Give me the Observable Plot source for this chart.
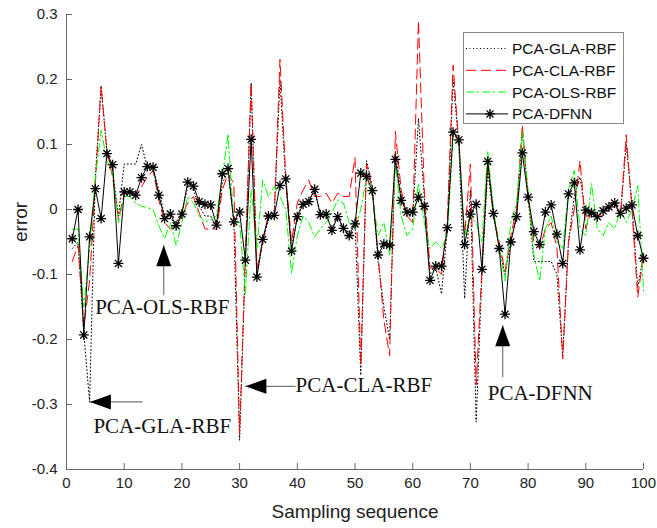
<!DOCTYPE html>
<html><head><meta charset="utf-8">
<script src="https://cdn.jsdelivr.net/npm/d3@7"></script>
<script src="https://cdn.jsdelivr.net/npm/@observablehq/plot@0.6"></script>
<style>
body{margin:0;background:#fff;}
#wrap{position:relative;width:657px;height:528px;}
#legend{position:absolute;left:463px;top:32px;width:161px;height:92px;border:1px solid #888;background:#fff;box-sizing:border-box;}
#legend svg{display:block}
</style>
</head><body>
<div id="wrap"><div id="chart"></div><div id="legend"></div></div>
<script>
// ---- data ----
const samples = d3.range(1, 101);
const seriesNames = ["PCA-GLA-RBF", "PCA-CLA-RBF", "PCA-OLS-RBF", "PCA-DFNN"];
const gla = [-0.06,-0.05,-0.19,-0.296,0.05,0.19,0.09,0.06,-0.01,0.07,
  0.07,0.07,0.10,0.065,0.063,0.03,-0.01,-0.015,-0.02,-0.005,
  0.035,0.03,0.005,-0.01,-0.01,-0.03,0.04,0.06,-0.02,-0.355,
  -0.08,0.195,-0.1,-0.05,-0.015,-0.01,0.2,0.04,-0.06,-0.01,
  0.01,0.015,0.03,-0.01,-0.01,-0.03,-0.01,-0.03,-0.035,-0.02,
  -0.255,0.075,0.035,-0.08,-0.15,-0.2,0.09,0.02,-0.01,-0.01,
  0.14,0.02,-0.1,-0.09,-0.13,-0.03,0.2,0.1,-0.137,0.03,
  -0.327,-0.1,0.06,-0.01,-0.06,-0.1,-0.05,-0.01,0.12,0.02,
  -0.08,-0.08,-0.08,-0.08,-0.1,-0.225,-0.05,0.02,0.05,-0.01,
  -0.01,-0.01,-0.005,0.0,0.01,-0.01,0.1,0.01,-0.12,-0.07];
const cla = [-0.08,-0.055,-0.18,-0.11,0.04,0.19,0.09,0.05,-0.015,0.025,
  0.025,0.02,0.035,0.05,0.06,0.015,-0.02,-0.03,-0.025,-0.01,
  0.01,0.02,-0.005,-0.03,-0.03,-0.03,0.03,0.055,0.04,-0.345,
  -0.07,0.194,-0.09,-0.05,-0.01,-0.01,0.231,0.05,-0.05,0.01,
  0.03,0.045,0.02,0.02,0.025,0.01,0.025,0.02,0.02,0.08,
  -0.24,0.07,0.03,-0.07,-0.17,-0.225,0.12,0.03,-0.01,-0.02,
  0.29,0.03,-0.09,-0.09,-0.1,-0.02,0.222,0.1,-0.04,0.07,
  -0.27,-0.09,0.08,-0.01,-0.05,-0.095,-0.04,0.0,0.13,0.02,
  -0.05,-0.06,-0.03,-0.02,-0.06,-0.23,-0.05,0.0,0.075,-0.03,
  0.0,-0.01,-0.01,0.0,0.01,-0.01,0.115,0.0,-0.135,-0.07];
const ols = [-0.03,-0.03,-0.15,-0.06,0.05,0.122,0.075,0.055,-0.02,0.02,
  0.02,0.01,0.005,0.003,0.0,-0.025,-0.045,-0.02,-0.055,-0.02,
  0.02,0.01,-0.01,-0.02,-0.015,-0.01,0.05,0.116,-0.02,-0.02,
  -0.13,0.03,-0.06,0.045,0.02,0.035,0.02,0.0,-0.098,-0.04,
  -0.01,-0.02,-0.042,-0.03,-0.02,-0.005,0.015,0.01,-0.02,-0.03,
  0.0,0.05,0.02,-0.04,-0.02,-0.07,0.07,-0.01,-0.04,-0.03,
  0.04,-0.02,-0.06,-0.05,-0.06,-0.04,0.11,0.1,-0.04,-0.01,
  -0.02,-0.05,0.09,0.0,-0.06,-0.11,-0.02,0.01,0.12,0.03,
  -0.07,-0.11,-0.03,-0.01,-0.05,-0.06,0.03,0.06,-0.03,-0.04,
  0.04,-0.03,-0.04,-0.02,-0.03,0.0,-0.02,0.0,0.037,-0.125];
const dfnn = [-0.045,0.0,-0.193,-0.042,0.032,-0.014,0.086,0.069,-0.083,0.027,
  0.027,0.022,0.049,0.066,0.065,0.022,-0.014,-0.007,-0.025,-0.007,
  0.042,0.036,0.012,0.008,0.007,-0.024,0.055,0.063,-0.019,-0.004,
  -0.078,0.108,-0.104,-0.046,-0.010,-0.009,0.037,0.047,-0.064,-0.011,
  0.008,0.012,0.031,-0.008,-0.007,-0.032,-0.011,-0.029,-0.040,-0.022,
  0.056,0.051,0.029,-0.070,-0.053,-0.055,0.077,0.014,-0.004,-0.004,
  0.019,0.005,-0.109,-0.087,-0.087,-0.028,0.119,0.107,-0.054,-0.007,
  0.008,-0.092,0.074,-0.006,-0.060,-0.161,-0.050,-0.011,0.087,0.019,
  -0.034,-0.054,-0.004,0.007,-0.038,-0.083,0.024,0.041,-0.062,-0.001,
  -0.005,-0.011,-0.002,0.004,0.010,-0.006,0.002,0.007,-0.040,-0.075];
const xTicks = [0,10,20,30,40,50,60,70,80,90,100];
const yTicks = [-0.4,-0.3,-0.2,-0.1,0,0.1,0.2,0.3];
const yTickLabels = ["-0.4","-0.3","-0.2","-0.1","0","0.1","0.2","0.3"];
const xLabel = "Sampling sequence";
const yLabel = "error";
// annotations (label, arrow tip, arrow tail, text position)
const annLabels = ["PCA-OLS-RBF","PCA-GLA-RBF","PCA-CLA-RBF","PCA-DFNN"];
const annTipX = [16.85, 4.05, 31.0, 75.6];
const annTipY = [-0.055, -0.296, -0.272, -0.178];
const annTailX = [16.85, 13.2, 39.7, 75.6];
const annTailY = [-0.132, -0.296, -0.272, -0.258];
const annTextX = [16.6, 16.6, 39.7, 82.1];
const annTextY = [-0.151, -0.333, -0.271, -0.283];
const annDir = ["up","left","left","up"];
const annAnchor = ["middle","middle","start","middle"];

// ---- build ----
const W = 657, H = 528, mL = 66, mR = 14, mT = 14, mB = 59;
const rows = samples.map((s, i) => ({x: s, gla: gla[i], cla: cla[i], ols: ols[i], dfnn: dfnn[i]}));
const ann = annLabels.map((l, i) => ({label: l, tx: annTipX[i], ty: annTipY[i], lx: annTailX[i], ly: annTailY[i],
  px: annTextX[i], py: annTextY[i], rot: annDir[i] === "up" ? 0 : -90, anchor: annAnchor[i]}));
const yMin = -0.4, yMax = 0.3;
const tickLen = (yMax - yMin) * 6 / (H - mT - mB);
const tickLenX = 100 * 6 / (W - mL - mR);

const star = {draw(ctx, size) {
  const r = Math.sqrt(size / Math.PI), d = r * Math.SQRT1_2;
  ctx.moveTo(-r, 0); ctx.lineTo(r, 0); ctx.moveTo(0, -r); ctx.lineTo(0, r);
  ctx.moveTo(-d, -d); ctx.lineTo(d, d); ctx.moveTo(-d, d); ctx.lineTo(d, -d);
}};
const head = {draw(ctx) {
  ctx.moveTo(0, 0); ctx.lineTo(-7.5, 21); ctx.lineTo(7.5, 21); ctx.closePath();
}};
const axisColor = "#666";
const chart = Plot.plot({
  width: W, height: H, marginLeft: mL, marginRight: mR, marginTop: mT, marginBottom: mB,
  x: {domain: [0, 100]},
  y: {domain: [yMin, yMax]},
  style: {fontFamily: "'Liberation Sans', Arial, sans-serif", fontSize: "15px", color: "#222", background: "#fff"},
  marks: [
    Plot.ruleX([0], {stroke: axisColor}),
    Plot.ruleY([yMin], {stroke: axisColor}),
    Plot.ruleX(xTicks, {x: d => d, y1: yMin, y2: yMin + tickLen, stroke: axisColor}),
    Plot.ruleY(yTicks, {y: d => d, x1: 0, x2: tickLenX, stroke: axisColor}),
    Plot.axisX({ticks: xTicks, tickSize: 0, tickPadding: 8, label: null, tickFormat: d => String(d)}),
    Plot.axisY({ticks: yTicks, tickSize: 0, tickPadding: 9, label: null, tickFormat: (d, i) => yTickLabels[yTicks.indexOf(d)]}),
    Plot.text([xLabel], {frameAnchor: "bottom", dy: 48, text: d => d, fontSize: 19, fill: "#222"}),
    Plot.text([yLabel], {frameAnchor: "left", dx: -46, rotate: -90, text: d => d, fontSize: 19, fill: "#222"}),
    Plot.line(rows, {x: "x", y: "gla", stroke: "#000", strokeWidth: 1, strokeDasharray: "1,2.5"}),
    Plot.line(rows, {x: "x", y: "cla", stroke: "#ff0000", strokeWidth: 1, strokeDasharray: "10,5"}),
    Plot.line(rows, {x: "x", y: "ols", stroke: "#00ff00", strokeWidth: 1, strokeDasharray: "8,3,2,3"}),
    Plot.line(rows, {x: "x", y: "dfnn", stroke: "#000", strokeWidth: 1}),
    Plot.dot(rows, {x: "x", y: "dfnn", symbol: star, r: 5, stroke: "#000", strokeWidth: 1.3, fill: "none"}),
    Plot.link(ann, {x1: "lx", y1: "ly", x2: "tx", y2: "ty", stroke: "#777", strokeWidth: 1.2}),
    Plot.dot(ann, {x: "tx", y: "ty", symbol: head, rotate: "rot", fill: "#000", stroke: "none"}),
    Plot.text(ann, {x: "px", y: "py", text: "label", textAnchor: "start", filter: d => d.anchor === "start", fontFamily: "'Liberation Serif', 'Times New Roman', serif", fontSize: 21, fill: "#111"}),
    Plot.text(ann, {x: "px", y: "py", text: "label", filter: d => d.anchor === "middle", fontFamily: "'Liberation Serif', 'Times New Roman', serif", fontSize: 21, fill: "#111"})
  ]
});
document.getElementById("chart").appendChild(chart);

// legend
const lg = d3.select("#legend").append("svg").attr("width", 159).attr("height", 90)
  .style("font-family", "'Liberation Sans', Arial, sans-serif");
const styles = [
  {stroke: "#000", dash: "1,2.5"}, {stroke: "#ff0000", dash: "10,5"},
  {stroke: "#00ff00", dash: "8,3,2,3"}, {stroke: "#000", dash: null}];
seriesNames.forEach((name, i) => {
  const cy = 15.5 + i * 21.8;
  lg.append("line").attr("x1", 2).attr("x2", 44).attr("y1", cy).attr("y2", cy)
    .attr("stroke", styles[i].stroke).attr("stroke-dasharray", styles[i].dash);
  if (i === 3) {
    lg.append("path").attr("transform", `translate(26,${cy})`)
      .attr("d", d3.symbol(star, 78)()).attr("stroke", "#000").attr("stroke-width", 1.3).attr("fill", "none");
  }
  lg.append("text").attr("x", 48).attr("y", cy).attr("dy", "0.35em").attr("font-size", 15.5).attr("fill", "#111").text(name);
});
</script>
</body></html>
